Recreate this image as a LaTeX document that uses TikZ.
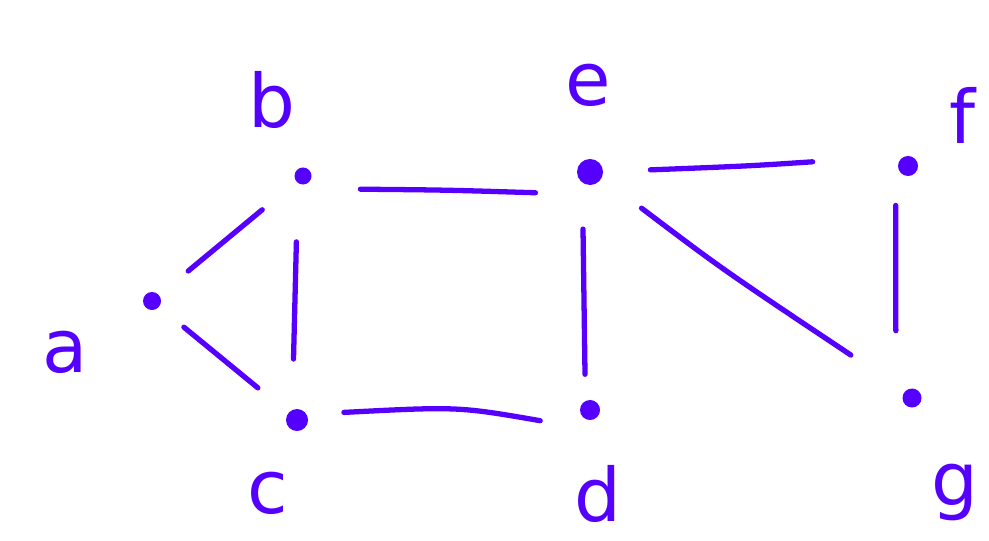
\documentclass[tikz,border=0pt]{standalone}
\usepackage{fontspec}
\setmainfont{DejaVu Sans}
\usetikzlibrary{calc}
\definecolor{ink}{HTML}{5500FF}
\tikzset{
  vtx/.style={circle,fill=ink,inner sep=0pt,minimum size=#1},
  vtx/.default=0.18cm,
  lbl/.style={text=ink,inner sep=0pt,font=\fontsize{21}{21}\selectfont},
  edge/.style={draw=ink,line width=1.5pt,line cap=round}
}
\begin{document}
\begin{tikzpicture}[x=0.01cm,y=-0.01cm]
\useasboundingbox (0,0) rectangle (989,540);
% vertices
\node[vtx=0.18cm] (a) at (152,301) {};
\node[vtx=0.17cm] (b) at (303,176) {};
\node[vtx=0.22cm] (c) at (297,420) {};
\node[vtx=0.2cm] (d) at (590,410) {};
\node[vtx=0.26cm] (e) at (590,172) {};
\node[vtx=0.2cm] (f) at (908,166) {};
\node[vtx=0.19cm] (g) at (912,398) {};
% labels
\node[lbl] (la) at (65,352) {a};
\node[lbl] (lb) at (272,100) {b};
\node[lbl] (lc) at (268,493) {c};
\node[lbl] (ld) at (598,494) {d};
\node[lbl] (le) at (588,85) {e};
\node[lbl] (lf) at (962,115) {f};
\node[lbl] (lg) at (955,492) {g};
% edges
\draw[edge] ($(a)!0.24!(b)$) -- ($(a)!0.73!(b)$);
\draw[edge] ($(a)!0.22!(c)$) -- ($(a)!0.73!(c)$);
\draw[edge] ($(b)!0.27!(c)+(-5,0)$) -- ($(b)!0.75!(c)+(-5,0)$);
\draw[edge] ($(b)!0.2!(e)+(0,14)$) .. controls ($(b)!0.5!(e)+(0,16)$) .. ($(b)!0.81!(e)+(0,20)$);
\draw[edge] ($(c)!0.16!(d)+(0,-6)$) .. controls ($(c)!0.55!(d)+(0,-8)$) .. ($(c)!0.83!(d)+(0,9)$);
\draw[edge] ($(e)!0.24!(d)+(-7,0)$) -- ($(e)!0.85!(d)+(-5,0)$);
\draw[edge] ($(e)!0.19!(f)+(0,-1)$) .. controls ($(e)!0.5!(f)+(0,-3)$) .. ($(e)!0.70!(f)+(0,-6)$);
\draw[edge] ($(e)!0.16!(g)$) .. controls ($(e)!0.45!(g)+(-12,-4)$) .. ($(e)!0.81!(g)$);
\draw[edge] ($(f)!0.17!(g)+(-13,0)$) -- ($(f)!0.71!(g)+(-15,0)$);
\end{tikzpicture}
\end{document}
